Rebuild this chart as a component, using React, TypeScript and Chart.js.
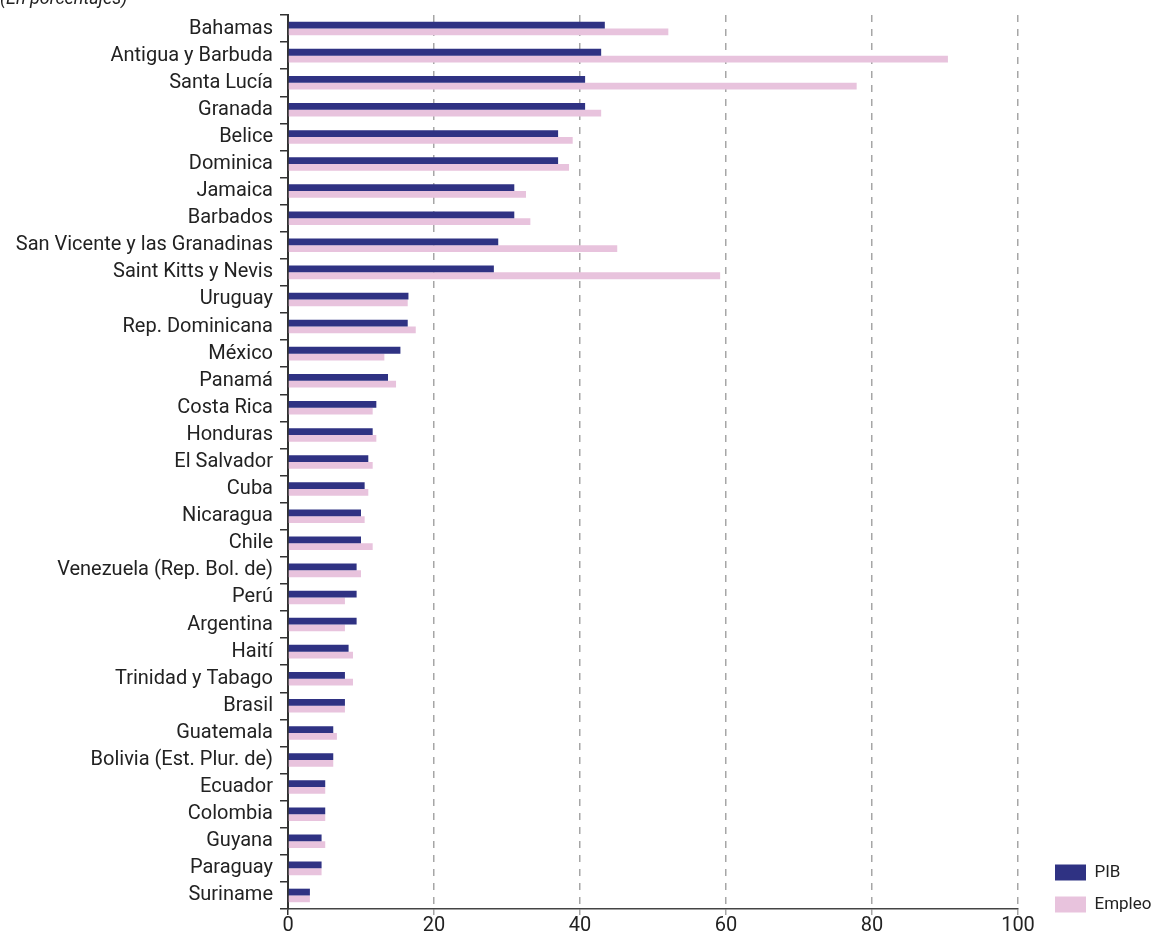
import React, { useEffect, useRef } from "react";
import { Chart, registerables } from "chart.js";

Chart.register(...registerables);

const categories = [
  "Bahamas", "Antigua y Barbuda", "Santa Lucía", "Granada", "Belice", "Dominica",
  "Jamaica", "Barbados", "San Vicente y las Granadinas", "Saint Kitts y Nevis",
  "Uruguay", "Rep. Dominicana", "México", "Panamá", "Costa Rica", "Honduras",
  "El Salvador", "Cuba", "Nicaragua", "Chile", "Venezuela (Rep. Bol. de)", "Perú",
  "Argentina", "Haití", "Trinidad y Tabago", "Brasil", "Guatemala",
  "Bolivia (Est. Plur. de)", "Ecuador", "Colombia", "Guyana", "Paraguay", "Suriname",
];

const pib = [
  43.4, 42.9, 40.7, 40.7, 37.0, 37.0, 31.0, 31.0, 28.8, 28.2,
  16.5, 16.4, 15.4, 13.7, 12.1, 11.6, 11.0, 10.5, 10.0, 10.0,
  9.4, 9.4, 9.4, 8.3, 7.8, 7.8, 6.2, 6.2, 5.1, 5.1, 4.6, 4.6, 3.0,
];

const empleo = [
  52.1, 90.4, 77.9, 42.9, 39.0, 38.5, 32.6, 33.2, 45.1, 59.2,
  16.4, 17.5, 13.2, 14.8, 11.6, 12.1, 11.6, 11.0, 10.5, 11.6,
  10.0, 7.8, 7.8, 8.9, 8.9, 7.8, 6.7, 6.2, 5.1, 5.1, 5.1, 4.6, 3.0,
];

const seriesNames = ["PIB", "Empleo"];
const xMin = 0;
const xMax = 100;
const xStep = 20;
const subtitle = "(En porcentajes)";

const FONT = "Roboto";
const LEGEND_W = 133;
const LEGEND_LEFT = 1040;
const LEGEND_DY = -9;

const legendPlace = {
  id: "legendPlace",
  beforeLayout(chart: any) {
    const lg = chart.legend;
    if (lg && !lg.__patched) {
      const orig = lg.fit;
      lg.fit = function (this: any) {
        orig.call(this);
        this.width = LEGEND_W;
      };
      lg.__patched = true;
    }
  },
  afterLayout(chart: any) {
    const lg = chart.legend;
    if (!lg) return;
    const w = lg.width;
    const h = lg.height;
    lg.left = LEGEND_LEFT;
    lg.right = LEGEND_LEFT + w;
    lg.top = lg.top + LEGEND_DY;
    lg.bottom = lg.top + h;
  },
};

export default function App() {
  const ref = useRef<HTMLCanvasElement | null>(null);

  useEffect(() => {
    document.body.style.margin = "0";
    const canvas = ref.current;
    if (!canvas) return;
    const chart = new Chart(canvas, {
      type: "bar",
      data: {
        labels: categories,
        datasets: [
          {
            label: seriesNames[0],
            data: pib,
            backgroundColor: "#2f3283",
            borderWidth: 0,
            barPercentage: 1,
            categoryPercentage: 0.5,
          },
          {
            label: seriesNames[1],
            data: empleo,
            backgroundColor: "#e8c3dd",
            borderWidth: 0,
            barPercentage: 1,
            categoryPercentage: 0.5,
          },
        ],
      },
      plugins: [legendPlace],
      options: {
        responsive: false,
        animation: false,
        indexAxis: "y",
        layout: { padding: { top: 15, right: 0, bottom: 0, left: 0 } },
        plugins: {
          title: { display: false },
          tooltip: { enabled: false },
          legend: {
            position: "right",
            align: "end",
            labels: {
              boxWidth: 31,
              boxHeight: 16,
              padding: 15,
              color: "#222",
              font: { family: FONT, size: 17 },
            },
          },
        },
        scales: {
          x: {
            min: xMin,
            max: xMax,
            ticks: {
              stepSize: xStep,
              color: "#222",
              padding: 1,
              font: { family: FONT, size: 20, lineHeight: 1 },
            },
            grid: {
              color: (ctx: any) => (ctx.tick && ctx.tick.value === 0 ? "#333" : "#a6a6a6"),
              lineWidth: 1.5,
              tickLength: 6,
            },
            border: { display: true, color: "#444", width: 1.5, dash: [7, 7] },
          },
          y: {
            grid: {
              offset: true,
              drawOnChartArea: false,
              color: "#333",
              lineWidth: 1.5,
              tickLength: 8,
            },
            border: { display: true, color: "#333", width: 2 },
            ticks: {
              autoSkip: false,
              color: "#222",
              padding: 7,
              font: { family: FONT, size: 20 },
            },
            afterFit: (s: any) => {
              s.width = 288;
              s.paddingTop = 0;
              s.paddingBottom = 0;
            },
          },
        },
      },
    });
    return () => chart.destroy();
  }, []);

  return (
    <div style={{ position: "relative", width: 1151, height: 937, overflow: "hidden", background: "#fff" }}>
      <canvas ref={ref} width={1151} height={937} style={{ display: "block" }} />
      <div
        style={{
          position: "absolute",
          left: 0,
          top: -11,
          fontFamily: FONT,
          fontStyle: "italic",
          fontSize: 18,
          lineHeight: "18px",
          color: "#222",
          whiteSpace: "nowrap",
        }}
      >
        {subtitle}
      </div>
    </div>
  );
}
